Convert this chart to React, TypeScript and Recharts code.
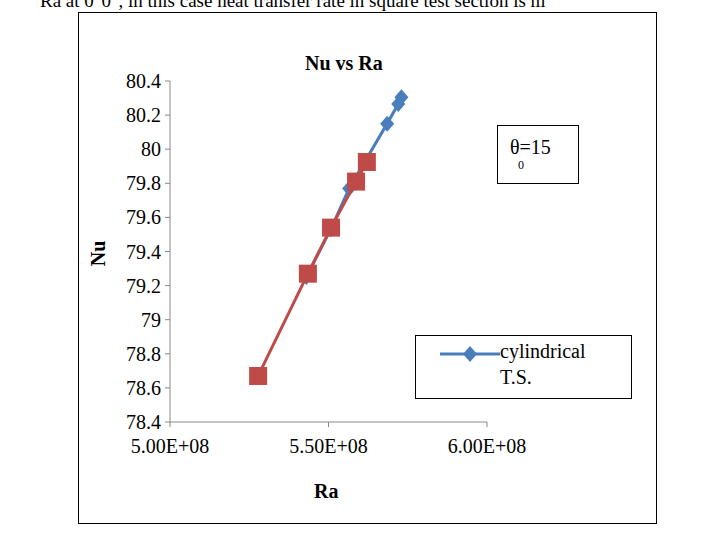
import { ScatterChart, Scatter, XAxis, YAxis } from 'recharts';

const cylRa = [5.43e8, 5.507e8, 5.565e8, 5.685e8, 5.72e8, 5.73e8];
const cylNu = [79.25, 79.53, 79.77, 80.15, 80.265, 80.305];
const sqRa = [5.278e8, 5.435e8, 5.508e8, 5.587e8, 5.621e8];
const sqNu = [78.67, 79.27, 79.54, 79.81, 79.925];
const xTicks = [5e8, 5.5e8, 6e8];
const yTicks = [78.4, 78.6, 78.8, 79, 79.2, 79.4, 79.6, 79.8, 80, 80.2, 80.4];

const cyl = cylRa.map((x, i) => ({ x, y: cylNu[i] }));
const sq = sqRa.map((x, i) => ({ x, y: sqNu[i] }));

const font = 'serif';

const Diamond = (p: any) => (
  <polygon points={`${p.cx},${p.cy - 8} ${p.cx + 7},${p.cy} ${p.cx},${p.cy + 8} ${p.cx - 7},${p.cy}`} fill="#4a7ebb" />
);
const Square = (p: any) => (
  <rect x={p.cx - 9} y={p.cy - 9} width={18} height={18} fill="#be4b48" />
);

const XTick = (p: any) => (
  <text x={p.x} y={p.y + 24} textAnchor="middle" style={{ fontFamily: font }} fontSize={20} fill="#000">
    {(p.payload.value / 1e8).toFixed(2) + 'E+08'}
  </text>
);
const YTick = (p: any) => (
  <text x={p.x - 2} y={p.y + 7} textAnchor="end" style={{ fontFamily: font }} fontSize={20} fill="#000">
    {String(+p.payload.value.toFixed(1))}
  </text>
);

export default function App() {
  return (
    <div style={{ position: 'fixed', left: 0, top: 0, width: 704, height: 538, background: '#fff', fontFamily: font, overflow: 'hidden' }}>
      <div style={{ position: 'absolute', top: -10, left: 40, fontSize: 19, whiteSpace: 'nowrap' }}>
        Ra at 0°0°, in this case heat transfer rate in square test section is m
      </div>
      <div style={{ position: 'absolute', left: 78, top: 12, width: 577, height: 510, border: '1px solid #000' }} />
      <ScatterChart width={704} height={538} margin={{ top: 81, right: 217, bottom: 86, left: 110 }} style={{ position: 'absolute', left: 0, top: 0 }}>
        <XAxis type="number" dataKey="x" domain={[5e8, 6e8]} ticks={xTicks} stroke="#888" tick={<XTick />} tickSize={5} height={30} />
        <YAxis type="number" dataKey="y" domain={[78.4, 80.4]} ticks={yTicks} stroke="#888" tick={<YTick />} tickSize={5} width={60} />
        <Scatter data={cyl} line={{ stroke: '#4a7ebb', strokeWidth: 3 }} shape={Diamond} isAnimationActive={false} />
        <Scatter data={sq} line={{ stroke: '#be4b48', strokeWidth: 3 }} shape={Square} isAnimationActive={false} />
      </ScatterChart>
      <div style={{ position: 'absolute', left: 305, top: 52, fontSize: 20, fontWeight: 'bold' }}>Nu vs Ra</div>
      <div style={{ position: 'absolute', left: 314, top: 480, fontSize: 20, fontWeight: 'bold' }}>Ra</div>
      <div style={{ position: 'absolute', left: 86, top: 242, fontSize: 20, fontWeight: 'bold', transform: 'rotate(-90deg)' }}>Nu</div>
      <div style={{ position: 'absolute', left: 497, top: 125, width: 80, height: 57, border: '1px solid #000', fontSize: 20 }}>
        <div style={{ position: 'absolute', left: 12, top: 10 }}>θ=15</div>
        <div style={{ position: 'absolute', left: 20, top: 32, fontSize: 12 }}>0</div>
      </div>
      <div style={{ position: 'absolute', left: 415, top: 335, width: 215, height: 62, border: '1px solid #000', fontSize: 20 }}>
        <svg width={60} height={20} style={{ position: 'absolute', left: 24, top: 8 }}>
          <line x1={0} y1={10} x2={60} y2={10} stroke="#4a7ebb" strokeWidth={3} />
          <polygon points="30,2 37,10 30,18 23,10" fill="#4a7ebb" />
        </svg>
        <div style={{ position: 'absolute', left: 84, top: 4 }}>cylindrical</div>
        <div style={{ position: 'absolute', left: 84, top: 30 }}>T.S.</div>
      </div>
    </div>
  );
}
